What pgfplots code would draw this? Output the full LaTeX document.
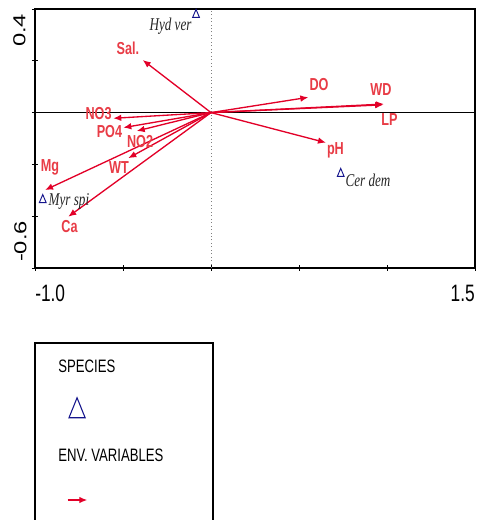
\documentclass[border=0pt]{standalone}
\usepackage{pgfplots}
\pgfplotsset{compat=1.18}
\usepackage{fontspec}
\setmainfont{Liberation Sans}
\newfontfamily\serifit{Liberation Serif}
\usetikzlibrary{arrows.meta}
\definecolor{arr}{RGB}{226,0,40}
\definecolor{lab}{RGB}{232,60,70}
\definecolor{spc}{RGB}{20,20,140}
\newcommand{\sq}[1]{\scalebox{0.73}[1]{#1}}
\tikzset{
  envarrow/.style={arr, line width=1pt, -{Latex[length=6pt,width=5pt]}},
  envlab/.style={lab, inner sep=0pt, font=\bfseries\fontsize{13}{13}\selectfont},
  splab/.style={black!85, inner sep=0pt, font=\serifit\itshape\fontsize{13.5}{13.5}\selectfont},
  ticklab/.style={inner sep=0pt, font=\fontsize{17.8}{18}\selectfont},
  leglab/.style={anchor=west, inner sep=0pt, font=\fontsize{13.5}{13.5}\selectfont},
}
\begin{document}
\begin{tikzpicture}
\begin{axis}[scale only axis,
  width=330pt, height=194.25pt,
  xmin=-1, xmax=1.5, ymin=-0.6, ymax=0.4,
  xtick={-1,-0.5,0,0.5,1,1.5}, ytick={-0.6,-0.4,-0.2,0,0.2,0.4},
  xticklabels={}, yticklabels={},
  xtick pos=left, ytick pos=left,
  tick align=center, major tick length=4.5pt,
  tick style={black, line width=0.6pt},
  axis line style={line width=0.9pt},
  clip=false]
\addplot[black, line width=0.6pt] coordinates {(-1,0) (1.5,0)};
\addplot[gray, dotted, line width=0.6pt] coordinates {(0,-0.6) (0,0.4)};
% environmental arrows
\addplot[envarrow] coordinates {(0,0) (-0.388,0.203)};  % Sal.
\addplot[envarrow] coordinates {(0,0) (-0.555,-0.022)}; % NO3
\addplot[envarrow] coordinates {(0,0) (-0.498,-0.058)}; % PO4
\addplot[envarrow] coordinates {(0,0) (-0.422,-0.071)}; % NO2
\addplot[envarrow] coordinates {(0,0) (-0.470,-0.176)}; % WT
\addplot[envarrow] coordinates {(0,0) (-0.943,-0.299)}; % Mg
\addplot[envarrow] coordinates {(0,0) (-0.811,-0.402)}; % Ca
\addplot[envarrow] coordinates {(0,0) (0.553,0.059)};   % DO
\addplot[envarrow] coordinates {(0,0) (0.983,0.033)};   % WD
\addplot[envarrow] coordinates {(0,0) (0.978,0.030)};   % LP
\addplot[envarrow] coordinates {(0,0) (0.653,-0.116)};  % pH
\node[envlab] at (axis cs:-0.472,0.249) {\sq{Sal.}};
\node[envlab] at (axis cs:-0.639,-0.005) {\sq{NO3}};
\node[envlab] at (axis cs:-0.577,-0.075) {\sq{PO4}};
\node[envlab] at (axis cs:-0.403,-0.110) {\sq{NO2}};
\node[envlab] at (axis cs:-0.523,-0.214) {\sq{WT}};
\node[envlab] at (axis cs:-0.915,-0.210) {\sq{Mg}};
\node[envlab] at (axis cs:-0.804,-0.438) {\sq{Ca}};
\node[envlab] at (axis cs:0.614,0.108) {\sq{DO}};
\node[envlab] at (axis cs:0.966,0.089) {\sq{WD}};
\node[envlab] at (axis cs:1.014,-0.025) {\sq{LP}};
\node[envlab] at (axis cs:0.707,-0.146) {\sq{pH}};
% species
\addplot[only marks, mark=triangle, spc, mark size=4pt, mark options={xscale=0.73, line width=0.7pt}]
  coordinates {(-0.085,0.378) (-0.956,-0.337) (0.737,-0.236)};
\node[splab] at (axis cs:-0.230,0.334) {\sq{Hyd ver}};
\node[splab] at (axis cs:-0.807,-0.343) {\sq{Myr spi}};
\node[splab] at (axis cs:0.892,-0.260) {\sq{Cer dem}};
% tick labels
\node[ticklab, anchor=west] at (axis cs:-1.0,-0.6988) {\sq{-1.0}};
\node[ticklab, anchor=east] at (axis cs:1.5,-0.6988) {\sq{1.5}};
\node[ticklab, rotate=90] at (axis cs:-1.0881,0.3170) {\scalebox{1}[0.73]{0.4}};
\node[ticklab, rotate=90] at (axis cs:-1.0824,-0.4977) {\scalebox{1}[0.73]{-0.6}};
% legend box
\draw[line width=0.9pt] (axis cs:-1,-0.8896) rectangle (axis cs:0.0114,-1.65);
\node[leglab] at (axis cs:-0.869,-0.978) {\sq{SPECIES}};
\addplot[only marks, mark=triangle, spc, mark size=10pt, mark options={xscale=0.7, line width=0.8pt}]
  coordinates {(-0.761,-1.1525)};
\node[leglab] at (axis cs:-0.869,-1.322) {\sq{ENV. VARIABLES}};
\addplot[envarrow] coordinates {(-0.814,-1.4958) (-0.703,-1.4958)};
\end{axis}
\pgfresetboundingbox
\useasboundingbox (-26.25pt,201pt) rectangle (330.75pt,-189pt);
\end{tikzpicture}
\end{document}
